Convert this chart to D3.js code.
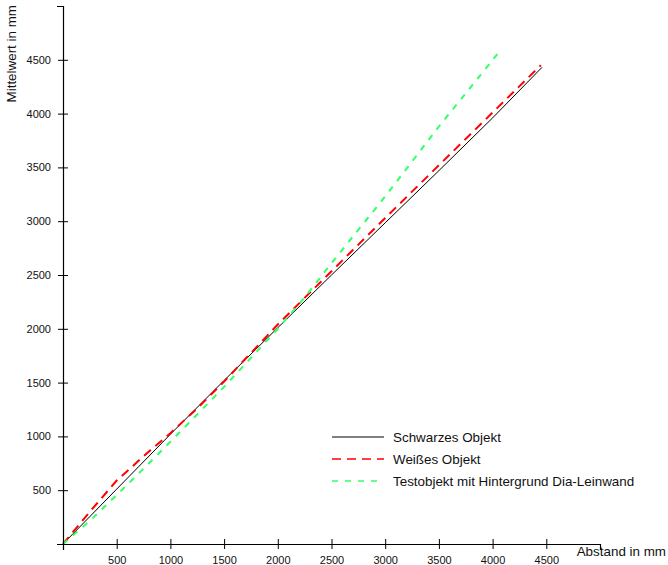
<!DOCTYPE html>
<html>
<head>
<meta charset="utf-8">
<script src="https://cdn.jsdelivr.net/npm/d3@7"></script>
<style>
  body { margin: 0; background: #fff; }
  svg { font-family: "Liberation Sans", Arial, sans-serif; }
</style>
</head>
<body>
<div id="chart"></div>
<script>
// values (mm)
const tickValues = [500, 1000, 1500, 2000, 2500, 3000, 3500, 4000, 4500];

const schwarzX = [0, 500, 1000, 1500, 2000, 2500, 3000, 3500, 4000, 4460];
const schwarzY = [0, 510, 1020, 1520, 2010, 2500, 2985, 3470, 3960, 4430];

const weissX = [0, 250, 500, 800, 1000, 1250, 1500, 2000, 2500, 3000, 3500, 4000, 4450];
const weissY = [0, 300, 590, 860, 1030, 1260, 1510, 2040, 2535, 3030, 3520, 4010, 4450];

const testX = [0, 250, 500, 750, 1000, 1500, 2000, 2250, 2500, 3000, 3500, 4050];
const testY = [0, 215, 455, 700, 950, 1460, 2000, 2290, 2610, 3230, 3880, 4560];

const seriesNames = ["Schwarzes Objekt", "Weißes Objekt", "Testobjekt mit Hintergrund Dia-Leinwand"];

const series = [
    {name: seriesNames[0], xs: schwarzX, ys: schwarzY, color: "#000", width: 1, dash: null},
    {name: seriesNames[1], xs: weissX, ys: weissY, color: "#ff0000", width: 2, dash: "9,6"},
    {name: seriesNames[2], xs: testX, ys: testY, color: "#33ff66", width: 2, dash: "6,7"}
];

const width = 668, height = 565;

const svg = d3.select("#chart").append("svg")
    .attr("width", width)
    .attr("height", height);

const x = d3.scaleLinear().domain([0, 5000]).range([63, 600]);
const y = d3.scaleLinear().domain([0, 5000]).range([544, 6]);

// lines
const line = d3.line()
    .x(d => x(d[0]))
    .y(d => y(d[1]));

series.forEach(s => {
    svg.append("path")
        .datum(s.xs.map((v, i) => [v, s.ys[i]]))
        .attr("fill", "none")
        .attr("stroke", s.color)
        .attr("stroke-width", s.width)
        .attr("stroke-dasharray", s.dash)
        .attr("d", line);
});

// x axis
const xAxis = svg.append("g")
    .attr("transform", `translate(0,${y(0)})`)
    .call(d3.axisBottom(x).tickValues(tickValues).tickFormat(d3.format("d")).tickSizeOuter(0).tickSize(6));
xAxis.selectAll(".tick line").attr("y1", -5).attr("y2", 5);
xAxis.selectAll(".tick text").attr("y", 12).attr("font-size", 11)
    .attr("font-family", "Liberation Sans, Arial, sans-serif").attr("fill", "#111");

// y axis
const yAxis = svg.append("g")
    .attr("transform", `translate(${x(0)},0)`)
    .call(d3.axisLeft(y).tickValues(tickValues).tickFormat(d3.format("d")).tickSizeOuter(0).tickSize(6));
yAxis.selectAll(".tick line").attr("x1", -5).attr("x2", 5);
yAxis.selectAll(".tick text").attr("x", -12).attr("font-size", 11)
    .attr("font-family", "Liberation Sans, Arial, sans-serif").attr("fill", "#111");

svg.selectAll(".domain").attr("stroke-width", 1.2);

// axis titles
svg.append("text")
    .attr("x", 666)
    .attr("y", 556)
    .attr("text-anchor", "end")
    .attr("font-size", 13.4)
    .attr("fill", "#111")
    .text("Abstand in mm");

svg.append("text")
    .attr("transform", "translate(16,5) rotate(-90)")
    .attr("text-anchor", "end")
    .attr("font-size", 13.4)
    .attr("fill", "#111")
    .text("Mittelwert in mm");

// legend
const legend = svg.append("g").attr("transform", "translate(332,437)");
series.forEach((s, i) => {
    const g = legend.append("g").attr("transform", `translate(0,${i * 22})`);
    g.append("line")
        .attr("x1", 0).attr("x2", 52)
        .attr("stroke", s.color)
        .attr("stroke-width", s.width === 1 ? 1 : 1.5)
        .attr("stroke-dasharray", s.dash);
    g.append("text")
        .attr("x", 61)
        .attr("y", 4.5)
        .attr("font-size", 13.4)
        .attr("fill", "#111")
        .text(s.name);
});
</script>
</body>
</html>
